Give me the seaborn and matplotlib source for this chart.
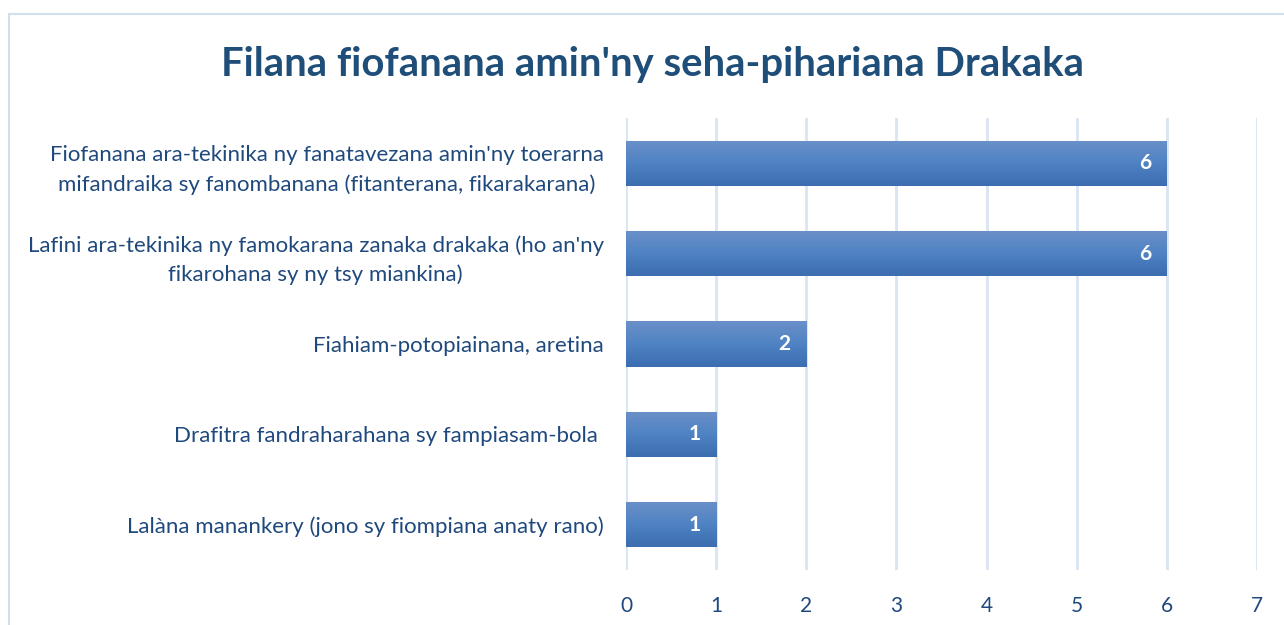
import matplotlib
matplotlib.use("Agg")
import matplotlib.pyplot as plt
import seaborn as sns
import numpy as np
import pandas as pd
from matplotlib.patches import Rectangle
from matplotlib.colors import LinearSegmentedColormap

categories = [
    "Fiofanana ara-tekinika ny fanatavezana amin'ny toerarna\nmifandraika sy fanombanana (fitanterana, fikarakarana)",
    "Lafini ara-tekinika ny famokarana zanaka drakaka (ho an'ny\nfikarohana sy ny tsy miankina)",
    "Fiahiam-potopiainana, aretina",
    "Drafitra fandraharahana sy fampiasam-bola ",
    "Lalàna manankery (jono sy fiompiana anaty rano)",
]
values = [6, 6, 2, 1, 1]
xticks = [0, 1, 2, 3, 4, 5, 6, 7]
title = "Filana fiofanana amin'ny seha-pihariana Drakaka"

sns.set_theme(style="white")
plt.rcParams['font.family'] = ['Lato', 'DejaVu Sans']

text_color = "#1F497D"
title_color = "#1F4E79"
grid_color = "#D9E5F3"

fig = plt.figure(figsize=(12.84, 6.25), dpi=100)
ax = fig.add_axes([0.4875, 0.088, 0.4915, 0.723])

df = pd.DataFrame({"cat": categories, "val": values})
sns.barplot(data=df, y="cat", x="val", orient="h", color="#4A7EBB",
            width=0.5, ax=ax, zorder=3)

ax.set_xlim(0, 7)
ax.set_xticks(xticks)
ax.set_xticklabels([str(t) for t in xticks])
ax.set_xlabel("")
ax.set_ylabel("")
for s in ax.spines.values():
    s.set_visible(False)
ax.grid(False)
for t in xticks:
    ax.axvline(t, color=grid_color, lw=2, zorder=1)

ax.tick_params(axis="x", length=0, pad=19, labelsize=15, labelcolor=text_color)
ax.tick_params(axis="y", length=0, pad=16, labelsize=16, labelcolor=text_color)
for lbl in ax.get_yticklabels():
    lbl.set_multialignment("center")
    lbl.set_linespacing(1.55)

# gradient fill of bars
cmap = LinearSegmentedColormap.from_list("g", ["#6B90C9", "#4F83C3", "#3B6DB0"])
grad = np.linspace(0, 1, 256).reshape(-1, 1)
for p in list(ax.patches):
    x0, y0 = p.get_x(), p.get_y()
    w, h = p.get_width(), p.get_height()
    im = ax.imshow(grad, cmap=cmap, aspect="auto",
                   extent=[x0, x0 + w, y0 + h, y0], zorder=4)
    im.set_clip_path(p)
    p.set_edgecolor("none")

ax.set_xlim(0, 7)
ax.set_ylim(4.5, -0.5)

for i, v in enumerate(values):
    ax.text(v - 0.24, i, str(v), ha="center", va="center", color="white",
            fontsize=15, fontweight="bold", zorder=5)

fig.text(0.508, 0.897, title, ha="center", va="center", fontsize=28.8,
         fontweight="bold", color=title_color)

fig.patches.append(Rectangle((9 / 1284, -0.05), 1.2, 1 - 14 / 625 + 0.05,
                             transform=fig.transFigure, fill=False,
                             edgecolor="#D0DEEE", lw=1.5, zorder=0))

fig.savefig("out.png", dpi=100)
